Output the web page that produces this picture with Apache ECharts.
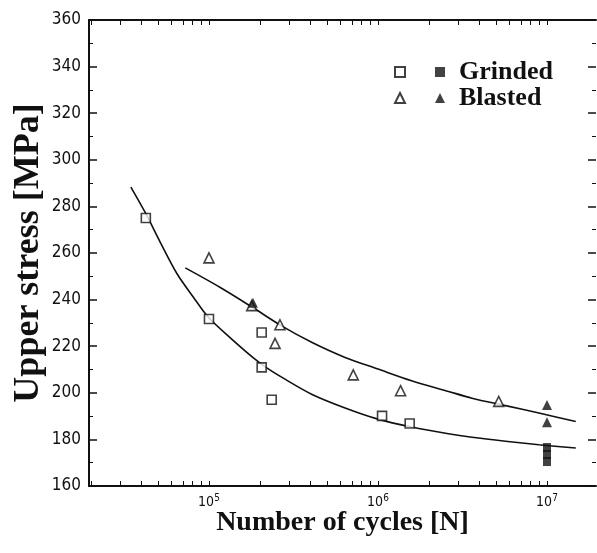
<!DOCTYPE html>
<html><head><meta charset="utf-8">
<script src="https://cdn.jsdelivr.net/npm/echarts@6/dist/echarts.min.js"></script>
<style>html,body{margin:0;padding:0;background:#fff}#c{width:597px;height:553px}</style>
</head><body><div id="c"></div>
<script>
// ---- data (N = number of cycles, S = upper stress in MPa) ----
const grindedOpenN   = [42300, 100000, 205000, 205000, 235000, 1057000, 1540000];
const grindedOpenS   = [275.0, 231.7, 225.9, 210.9, 197.0, 190.1, 186.8];
const grindedFilledN = [10000000, 10000000, 10000000];
const grindedFilledS = [176.5, 173.5, 170.5];
const blastedOpenN   = [100000, 179000, 263000, 246000, 714000, 1360000, 5180000];
const blastedOpenS   = [257.9, 237.4, 229.2, 221.2, 207.7, 200.9, 196.3];
const blastedFilledN = [182000, 10000000, 10000000];
const blastedFilledS = [238.6, 194.8, 187.4];
const grindedFitN = [34500, 42300, 51600, 64700, 80900, 99100, 132700, 181600, 217500, 272000, 407600, 638700,
                     1000000, 1580000, 2610000, 3600000, 5680000, 8960000, 14800000];
const grindedFitS = [288.3, 276.9, 264.5, 251.1, 241.0, 232.4, 223.8, 215.2, 210.9, 206.5, 199.3, 193.5,
                     188.7, 185.3, 182.4, 180.9, 179.2, 177.7, 176.3];
const blastedFitN = [72400, 116000, 181500, 272000, 407600, 638700, 1000000, 1580000, 2610000, 3600000, 5680000,
                     8960000, 14800000];
const blastedFitS = [253.6, 245.3, 236.6, 228.5, 221.6, 215.2, 210.2, 205.2, 200.6, 197.7, 194.5, 191.3, 187.7];
const xLabelExponents = [5, 6, 7];
const xTickDecades = [4, 5, 6, 7];
const xTickMultipliers = [1, 2, 3, 4, 5, 6, 7, 8, 9];
const xMinN = 19500, xMaxN = 19500000;
const yMin = 160, yMax = 360, yStep = 20;

const lg = v => Math.log10(v);
const pairs = (N, S) => N.map((n, i) => [lg(n), S[i]]);
const xMin = lg(xMinN), xMax = lg(xMaxN);
const minorTicks = [];
xTickDecades.forEach(d => xTickMultipliers.forEach(m => {
  const v = lg(m * Math.pow(10, d));
  if (v > xMin && v < xMax) minorTicks.push(v);
}));

const labelFont = '"DejaVu Sans Condensed", "Liberation Sans", Arial, sans-serif';
const serif = '"Liberation Serif", "Times New Roman", serif';
const black = '#111';

const xBase = {
  type: 'value', min: xMin, max: xMax,
  splitLine: { show: false },
  axisLine: { show: true, lineStyle: { color: black, width: 2 } },
  axisTick: { show: true, inside: true, length: 5, customValues: minorTicks, lineStyle: { color: black, width: 1 } }
};
const yBase = {
  type: 'value', min: yMin, max: yMax, interval: yStep,
  splitLine: { show: false },
  axisLine: { show: true, lineStyle: { color: black, width: 2 } },
  axisTick: { show: true, inside: true, length: 8, lineStyle: { color: black, width: 1.5 } },
  minorTick: { show: true, splitNumber: 2, length: 4, lineStyle: { color: black, width: 1 } }
};

const chart = echarts.init(document.getElementById('c'), null, { renderer: 'canvas' });
chart.setOption({
  animation: false,
  backgroundColor: '#fff',
  grid: { left: 89, right: 1, top: 20, bottom: 67, containLabel: false, outerBoundsMode: 'none' },
  legend: [
    { orient: 'vertical', left: 389, top: 54, itemWidth: 10, itemHeight: 10, itemGap: 0,
      selectedMode: false, data: ['Grinded (open)', 'Blasted (open)'],
      formatter: () => ' ', textStyle: { fontSize: 26, lineHeight: 26, fontFamily: serif } },
    { orient: 'vertical', left: 430, top: 54, itemWidth: 10, itemHeight: 10, itemGap: 0,
      selectedMode: false, data: ['Grinded', 'Blasted'],
      textStyle: { fontSize: 26, lineHeight: 26, fontFamily: serif, fontWeight: 'bold', color: black, padding: [0, 0, 0, 9] } }
  ],
  xAxis: [
    Object.assign({}, xBase, {
      position: 'bottom',
      name: 'Number of cycles [N]', nameLocation: 'middle', nameGap: 23, nameMoveOverlap: false,
      nameTextStyle: { fontFamily: serif, fontWeight: 'bold', fontSize: 28, color: black, verticalAlign: 'top' },
      axisLabel: {
        show: true, customValues: xLabelExponents, margin: 7,
        formatter: v => '{b|10}{s|' + Math.round(v) + '}',
        rich: {
          b: { fontFamily: labelFont, fontSize: 14, color: black, lineHeight: 16, verticalAlign: 'bottom' },
          s: { fontFamily: labelFont, fontSize: 10, color: black, lineHeight: 16, verticalAlign: 'top', padding: [0, 0, 6, 0] }
        }
      }
    }),
    Object.assign({}, xBase, { position: 'top', axisLabel: { show: false } })
  ],
  yAxis: [
    Object.assign({}, yBase, {
      position: 'left',
      name: 'Upper stress [MPa]', nameLocation: 'middle', nameGap: 42, nameRotate: 90, nameMoveOverlap: false,
      nameTextStyle: { fontFamily: serif, fontWeight: 'bold', fontSize: 36, color: black },
      axisLabel: { show: true, margin: 8, fontFamily: labelFont, fontSize: 17, color: black }
    }),
    Object.assign({}, yBase, { position: 'right', axisLine: { show: false }, axisLabel: { show: false } })
  ],
  series: [
    { name: 'Grinded fit', type: 'line', data: pairs(grindedFitN, grindedFitS), smooth: 0.3,
      symbol: 'none', lineStyle: { color: black, width: 1.6 }, z: 2 },
    { name: 'Blasted fit', type: 'line', data: pairs(blastedFitN, blastedFitS), smooth: 0.3,
      symbol: 'none', lineStyle: { color: black, width: 1.6 }, z: 2 },
    { name: 'Grinded (open)', type: 'scatter', data: pairs(grindedOpenN, grindedOpenS), symbol: 'rect', symbolSize: 9,
      itemStyle: { color: '#fff', borderColor: black, borderWidth: 1.6 }, z: 3 },
    { name: 'Grinded', type: 'scatter', data: pairs(grindedFilledN, grindedFilledS), symbol: 'rect', symbolSize: [8, 9],
      itemStyle: { color: black }, z: 3 },
    { name: 'Blasted (open)', type: 'scatter', data: pairs(blastedOpenN, blastedOpenS), symbol: 'triangle', symbolSize: 10,
      itemStyle: { color: '#fff', borderColor: black, borderWidth: 1.6 }, z: 3 },
    { name: 'Blasted', type: 'scatter', data: pairs(blastedFilledN, blastedFilledS), symbol: 'triangle', symbolSize: 10,
      itemStyle: { color: black }, z: 4 }
  ]
});
</script></body></html>
